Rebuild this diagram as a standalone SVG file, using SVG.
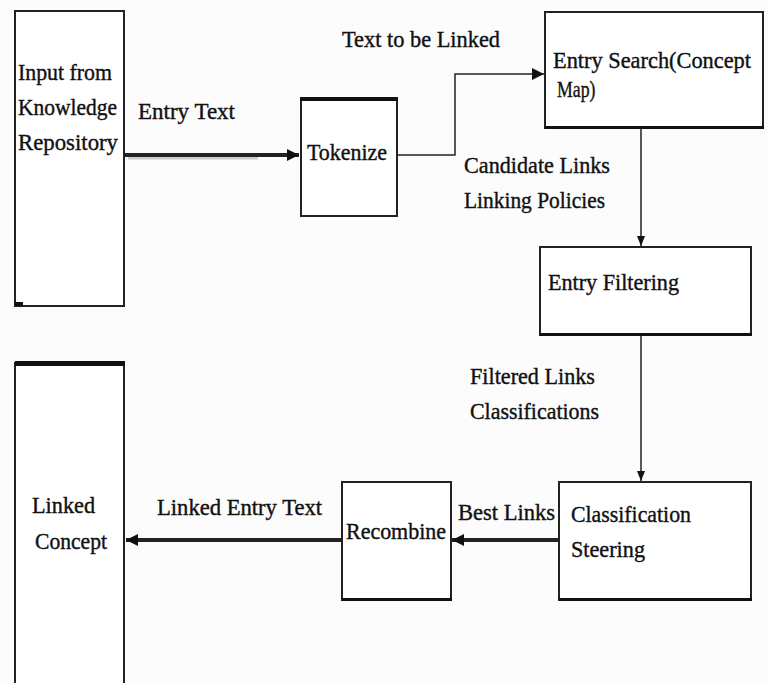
<svg xmlns="http://www.w3.org/2000/svg" width="769" height="683" viewBox="0 0 769 683">
<style>
.box{fill:#fff;stroke:#222;stroke-width:2}
.bar{fill:#111}
text{font-family:'Liberation Serif','DejaVu Serif',serif;font-size:24px;fill:#111;stroke:#111;stroke-width:0.4}
.thin{fill:none;stroke:#222;stroke-width:1.5}
.thick{fill:none;stroke:#222;stroke-width:4}
</style>
<defs>
<marker id="ah" markerUnits="userSpaceOnUse" markerWidth="14" markerHeight="14" refX="12" refY="6" orient="auto">
<path d="M0,0 L12,6 L0,12 Z" fill="#111"/>
</marker>
<marker id="ahs" markerUnits="userSpaceOnUse" markerWidth="12" markerHeight="12" refX="10" refY="5" orient="auto">
<path d="M0,1 L10,5 L0,9 Z" fill="#111"/>
</marker>
</defs>
<rect width="769" height="683" fill="#fcfcfc"/>
<g id="input">
<rect class="box" x="15" y="11" width="109" height="295"/>
<rect class="bar" x="15" y="302" width="8" height="4"/>
<text x="18" y="80" textLength="94" lengthAdjust="spacingAndGlyphs">Input from</text>
<text x="18" y="115" textLength="99" lengthAdjust="spacingAndGlyphs">Knowledge</text>
<text x="18" y="150" textLength="100" lengthAdjust="spacingAndGlyphs">Repository</text>
</g>
<g id="tokenize">
<rect class="box" x="301" y="98" width="96" height="118"/>
<rect class="bar" x="300" y="97" width="98" height="4"/>
<text x="307" y="160" textLength="80" lengthAdjust="spacingAndGlyphs">Tokenize</text>
</g>
<g id="entrysearch">
<rect class="box" x="545" y="12" width="218" height="116"/>
<rect class="bar" x="545" y="126" width="219" height="3"/>
<text x="553" y="68" font-size="23" textLength="198" lengthAdjust="spacingAndGlyphs">Entry Search(Concept</text>
<text transform="translate(557,97) scale(0.74,1)">Map)</text>
</g>
<g id="entryfiltering">
<rect class="box" x="540" y="247" width="211" height="88"/>
<rect class="bar" x="540" y="333" width="212" height="3"/>
<text x="548" y="290" textLength="131" lengthAdjust="spacingAndGlyphs">Entry Filtering</text>
</g>
<g id="classification">
<rect class="box" x="559" y="482" width="192" height="118"/>
<rect class="bar" x="559" y="598" width="193" height="3"/>
<text x="571" y="522" textLength="120" lengthAdjust="spacingAndGlyphs">Classification</text>
<text x="571" y="557" textLength="74" lengthAdjust="spacingAndGlyphs">Steering</text>
</g>
<g id="recombine">
<rect class="box" x="342" y="482" width="109" height="118"/>
<rect class="bar" x="342" y="598" width="110" height="3"/>
<text x="346" y="539" textLength="100" lengthAdjust="spacingAndGlyphs">Recombine</text>
</g>
<g id="linkedconcept">
<path d="M15,690 V363 H124 V690" fill="#fff" stroke="#222" stroke-width="2"/>
<rect class="bar" x="15" y="361" width="110" height="5"/>
<text x="32" y="513" textLength="63" lengthAdjust="spacingAndGlyphs">Linked</text>
<text x="35" y="549" textLength="72" lengthAdjust="spacingAndGlyphs">Concept</text>
</g>
<g id="connectors">
<line x1="128" y1="158" x2="258" y2="158" stroke="#ccc" stroke-width="3"/>
<path class="thick" d="M124,155 H299" marker-end="url(#ah)"/>
<path class="thin" d="M397,155 H455 V74 H544" marker-end="url(#ah)"/>
<path class="thin" d="M641,129 V246" marker-end="url(#ahs)"/>
<path class="thin" d="M641,336 V481" marker-end="url(#ahs)"/>
<path class="thick" d="M559,540 H452" stroke="#333" marker-end="url(#ah)"/>
<path class="thick" d="M342,540 H126" stroke="#333" marker-end="url(#ah)"/>
<text x="138" y="119" textLength="97" lengthAdjust="spacingAndGlyphs">Entry Text</text>
<text x="342" y="47" textLength="158" lengthAdjust="spacingAndGlyphs">Text to be Linked</text>
<text x="464" y="173" textLength="146" lengthAdjust="spacingAndGlyphs">Candidate Links</text>
<text x="464" y="208" textLength="141" lengthAdjust="spacingAndGlyphs">Linking Policies</text>
<text x="470" y="384" textLength="125" lengthAdjust="spacingAndGlyphs">Filtered Links</text>
<text x="470" y="419" textLength="129" lengthAdjust="spacingAndGlyphs">Classifications</text>
<text x="458" y="520" textLength="97" lengthAdjust="spacingAndGlyphs">Best Links</text>
<text x="157" y="515" textLength="165" lengthAdjust="spacingAndGlyphs">Linked Entry Text</text>
</g>
</svg>
